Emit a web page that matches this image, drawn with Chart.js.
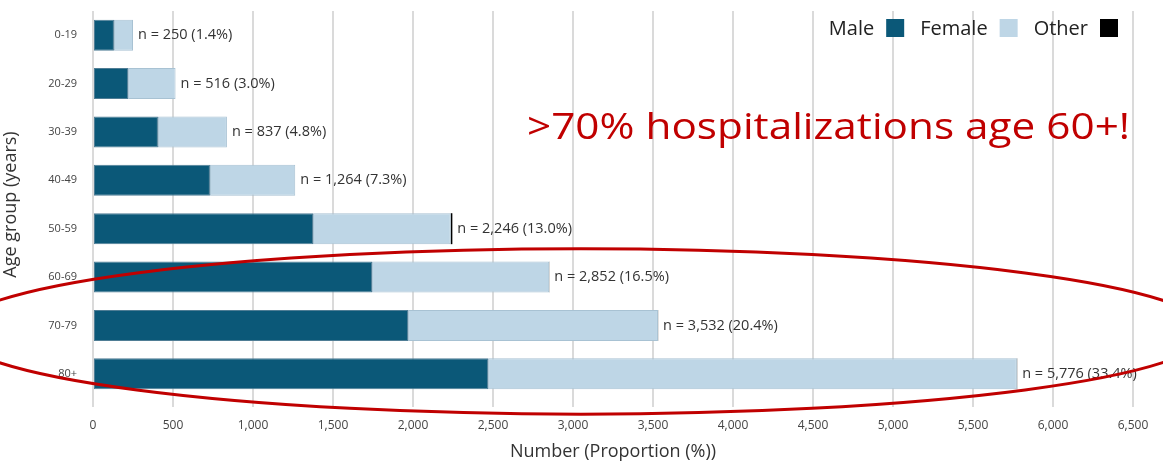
<!DOCTYPE html>
<html>
<head>
<meta charset="utf-8">
<script src="https://cdn.jsdelivr.net/npm/chart.js@4.4.0/dist/chart.umd.min.js"></script>
<style>
  html, body { margin: 0; padding: 0; background: #ffffff; }
  #wrap { width: 1163px; height: 465px; position: relative; }
</style>
</head>
<body>
<div id="wrap"><canvas id="ageChart"></canvas></div>
<script>
// values
const ageGroups = ['0-19', '20-29', '30-39', '40-49', '50-59', '60-69', '70-79', '80+'];
const maleCounts = [131, 219, 406, 731, 1375, 1744, 1969, 2469];
const femaleCounts = [119, 297, 431, 533, 861, 1107, 1562, 3305];
const otherCounts = [0, 0, 0, 0, 10, 1, 1, 2];
const totalCounts = [250, 516, 837, 1264, 2246, 2852, 3532, 5776];
const totalPct = ['1.4', '3.0', '4.8', '7.3', '13.0', '16.5', '20.4', '33.4'];
const xTicks = [0, 500, 1000, 1500, 2000, 2500, 3000, 3500, 4000, 4500, 5000, 5500, 6000, 6500];

const maleColor = '#0b5878';
const femaleColor = '#bed6e6';
const otherColor = '#000000';
const redColor = '#c00000';

// n = ... labels at the end of each bar
const barLabels = {
  id: 'barLabels',
  afterDatasetsDraw(chart) {
    const ctx = chart.ctx;
    const x = chart.scales.x, y = chart.scales.y;
    ctx.save();
    ctx.font = '14.5px "Open Sans"';
    ctx.fillStyle = '#333';
    ctx.textBaseline = 'middle';
    ctx.textAlign = 'left';
    totalCounts.forEach((n, i) => {
      const px = x.getPixelForValue(n) + 5;
      const py = y.getPixelForValue(i);
      ctx.fillText('n = ' + n.toLocaleString('en-US') + ' (' + totalPct[i] + '%)', px, py);
    });
    ctx.restore();
  }
};

// legend: label first, then the colour box
const sideLegend = {
  id: 'sideLegend',
  afterDraw(chart) {
    const ctx = chart.ctx;
    ctx.save();
    ctx.font = '20px "Open Sans"';
    ctx.textBaseline = 'middle';
    const items = chart.data.datasets.map(d => [d.label, d.backgroundColor]);
    let right = 1118;
    const cy = 28;
    for (let i = items.length - 1; i >= 0; i--) {
      ctx.fillStyle = items[i][1];
      ctx.fillRect(right - 18, cy - 9, 18, 18);
      right -= 18 + 12;
      ctx.fillStyle = '#222';
      ctx.textAlign = 'right';
      ctx.fillText(items[i][0], right, cy + 1);
      right -= ctx.measureText(items[i][0]).width + 16;
    }
    ctx.restore();
  }
};

// red callout text and ellipse around the 60+ groups
const callout = {
  id: 'callout',
  afterDraw(chart) {
    const ctx = chart.ctx;
    const x = chart.scales.x, y = chart.scales.y;
    ctx.save();
    const txt = '>70% hospitalizations age 60+!';
    ctx.font = '37px "Open Sans"';
    const w = ctx.measureText(txt).width;
    ctx.translate(527, 139);
    ctx.scale(603 / w, 1);
    ctx.fillStyle = redColor;
    ctx.textBaseline = 'alphabetic';
    ctx.fillText(txt, 0, 0);
    ctx.restore();

    ctx.save();
    const cx = x.getPixelForValue(3050);
    const cy = y.getPixelForValue(6) + 6;
    const rx = x.getPixelForValue(3050 + 3925) - cx;
    const ry = (y.getPixelForValue(1) - y.getPixelForValue(0)) * 1.71;
    ctx.beginPath();
    ctx.ellipse(cx, cy, rx, ry, 0, 0, Math.PI * 2);
    ctx.strokeStyle = redColor;
    ctx.lineWidth = 3;
    ctx.stroke();
    ctx.restore();
  }
};

new Chart(document.getElementById('ageChart'), {
  type: 'bar',
  data: {
    labels: ageGroups,
    datasets: [
      { label: 'Male', data: maleCounts, backgroundColor: maleColor, borderColor: '#4f7d95', borderWidth: 1, borderSkipped: false },
      { label: 'Female', data: femaleCounts, backgroundColor: femaleColor, borderColor: '#a8c2d3', borderWidth: 1, borderSkipped: false },
      { label: 'Other', data: otherCounts, backgroundColor: otherColor, borderWidth: 0 }
    ]
  },
  options: {
    indexAxis: 'y',
    responsive: true,
    maintainAspectRatio: false,
    animation: false,
    layout: { padding: { top: 11, right: 30, left: 0, bottom: 0 } },
    datasets: { bar: { categoryPercentage: 1, barPercentage: 0.64 } },
    plugins: {
      legend: { display: false },
      tooltip: { enabled: false }
    },
    scales: {
      x: {
        stacked: true,
        min: 0,
        max: 6500,
        afterBuildTicks(scale) { scale.ticks = xTicks.map(v => ({ value: v })); },
        afterFit(scale) { scale.height = 67; },
        grid: { color: '#dadada', lineWidth: 2, tickLength: 9, drawTicks: true },
        border: { display: false },
        ticks: {
          color: '#444',
          font: { family: '"Open Sans"', size: 12 },
          padding: 11,
          maxRotation: 0,
          callback: v => v.toLocaleString('en-US')
        },
        title: {
          display: true,
          text: 'Number (Proportion (%))',
          color: '#333',
          font: { family: '"Open Sans"', size: 18 },
          padding: { top: 0, bottom: 2 }
        }
      },
      y: {
        stacked: true,
        afterFit(scale) {
          scale.width = 93;
          scale.paddingTop = 0;
          scale.paddingBottom = 0;
        },
        grid: { display: false },
        border: { display: false },
        ticks: {
          color: '#444',
          font: { family: '"Open Sans"', size: 11 },
          padding: 8
        },
        title: {
          display: true,
          text: 'Age group (years)',
          color: '#333',
          font: { family: '"Open Sans"', size: 18 },
          padding: { top: 0, bottom: 4 }
        }
      }
    }
  },
  plugins: [barLabels, sideLegend, callout]
});
</script>
</body>
</html>
